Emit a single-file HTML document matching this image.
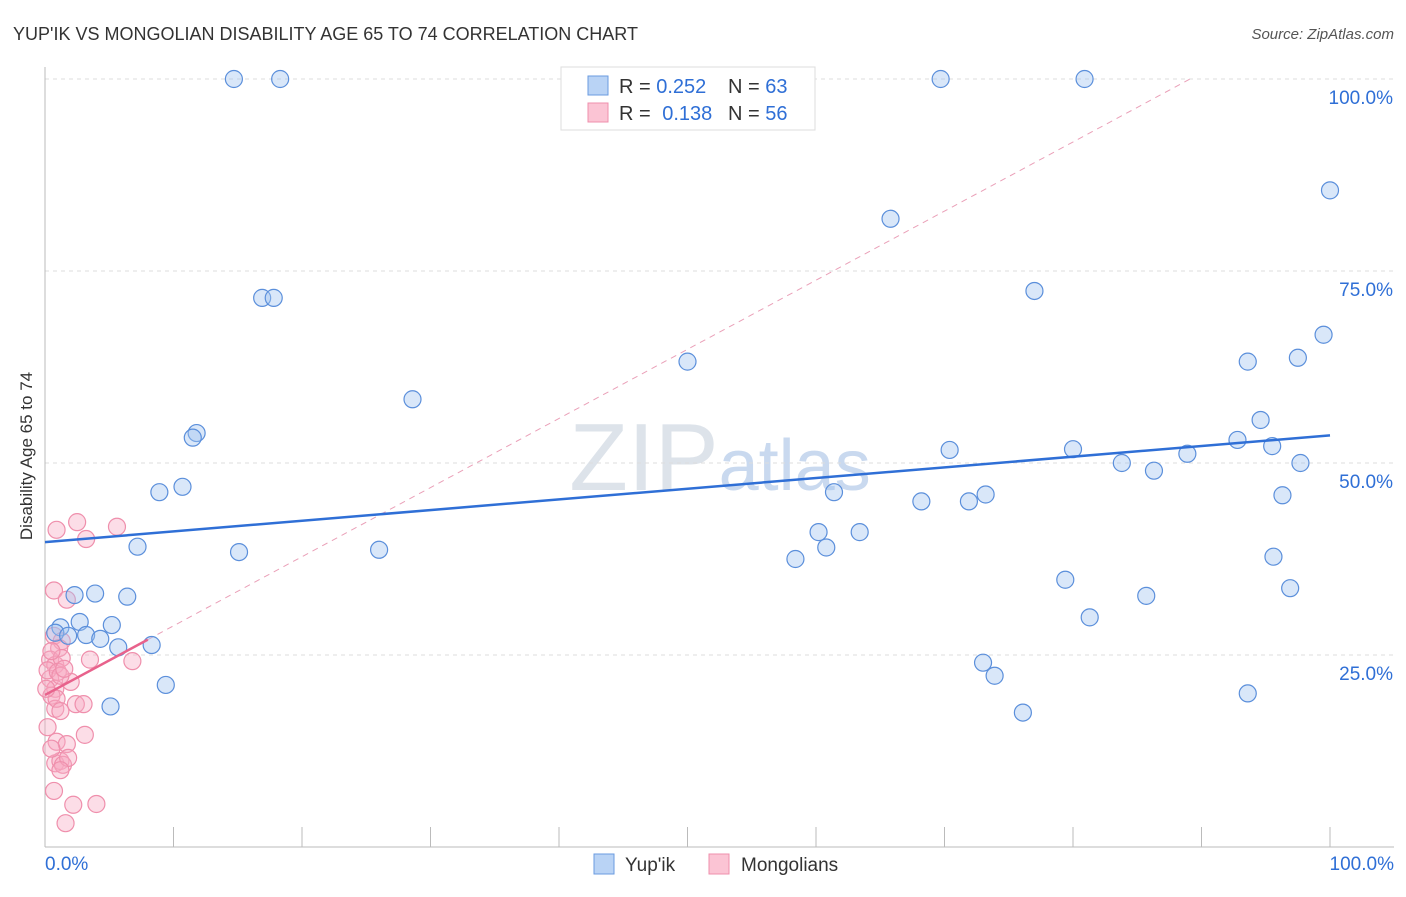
<!DOCTYPE html>
<html><head><meta charset="utf-8"><style>
body{margin:0;background:#fff;font-family:"Liberation Sans",sans-serif;}
svg text{font-family:"Liberation Sans",sans-serif;}
</style></head><body>
<svg id="c" width="1406" height="892" xmlns="http://www.w3.org/2000/svg">
<text x="13" y="40" font-size="18" fill="#333">YUP'IK VS MONGOLIAN DISABILITY AGE 65 TO 74 CORRELATION CHART</text>
<text x="1394" y="39" font-size="15" fill="#555" font-style="italic" text-anchor="end">Source: ZipAtlas.com</text>
<text x="32" y="456" font-size="17" fill="#333" text-anchor="middle" transform="rotate(-90 32 456)">Disability Age 65 to 74</text>
<text x="720" y="490" font-size="96" fill="#dde3ea" text-anchor="middle" font-family="Liberation Serif">ZIP<tspan fill="#c9d9ef" font-family="Liberation Sans" font-size="72">atlas</tspan></text>
<g id="grid"></g><g id="axes"></g><g id="lines"></g><g id="pts"></g>
<g>
<rect x="561" y="67" width="254" height="63" fill="#fff" stroke="#ddd"/>
<rect x="588" y="76" width="20" height="19" fill="#b9d3f5" stroke="#6a9be0"/>
<rect x="588" y="103" width="20" height="19" fill="#fbc4d4" stroke="#ef8fac"/>
<text x="619" y="93" font-size="20" fill="#333">R = <tspan fill="#2f6fd6">0.252</tspan></text>
<text x="728" y="93" font-size="20" fill="#333">N = <tspan fill="#2f6fd6">63</tspan></text>
<text x="619" y="120" font-size="20" fill="#333">R = <tspan fill="#2f6fd6" dx="6">0.138</tspan></text>
<text x="728" y="120" font-size="20" fill="#333">N = <tspan fill="#2f6fd6">56</tspan></text>
</g>
<g>
<rect x="594" y="854" width="20" height="20" fill="#b9d3f5" stroke="#6a9be0"/>
<text x="625" y="871" font-size="19" fill="#333">Yup'ik</text>
<rect x="709" y="854" width="20" height="20" fill="#fbc4d4" stroke="#ef8fac"/>
<text x="741" y="871" font-size="19" fill="#333">Mongolians</text>
</g>
</svg>
<script>
const yTicks=[25,50,75,100];
const yTickLabels=["25.0%","50.0%","75.0%","100.0%"];
const blueX=[14.7,18.3,69.7,80.9,100,65.8,16.9,17.8,77,99.5,50,93.6,97.5,28.6,94.6,11.8,11.5,92.8,95.5,70.4,80,88.9,83.8,86.3,97.7,8.9,10.7,61.4,73.2,96.3,68.2,71.9,15.1,26,60.2,63.4,60.8,58.4,7.2,95.6,79.4,85.7,96.9,81.3,3.9,2.3,6.4,2.7,5.2,1.2,0.8,1.8,3.2,4.3,5.7,8.3,9.4,73,73.9,76.1,93.6,5.1];
const blueY=[100,100,100,100,85.5,81.8,71.5,71.5,72.4,66.7,63.2,63.2,63.7,58.3,55.6,53.9,53.3,53,52.2,51.7,51.8,51.2,50,49,50,46.2,46.9,46.2,45.9,45.8,45,45,38.4,38.7,41,41,39,37.5,39.1,37.8,34.8,32.7,33.7,29.9,33,32.8,32.6,29.3,28.9,28.6,27.9,27.5,27.6,27.1,26,26.3,21.1,24,22.3,17.5,20,18.3];
const pinkX=[0.9,2.5,3.2,5.6,0.7,1.7,0.7,1.3,1.1,0.4,0.8,1.3,3.5,6.8,0.4,2,0.8,0.5,2.4,3,0.8,3.1,0.9,1.7,0.8,1.2,1.4,1.8,1.2,0.7,2.2,4,1.6,0.2,1,1.2,0.5,1.5,0.9,1.2,0.1,0.5,0.2];
const pinkY=[41.3,42.3,40.1,41.7,33.4,32.2,27.5,26.8,25.9,24.4,23.7,24.6,24.4,24.2,21.9,21.5,20.6,19.7,18.6,18.6,18,14.6,13.7,13.4,10.9,11.2,10.7,11.6,10,7.3,5.5,5.6,3.1,23,22.8,22.3,25.5,23.2,19.3,17.7,20.6,12.8,15.6];
const blueTrend=[39.7,53.6];
const pinkTrend=[19.8,27.0,8];
const NS="http://www.w3.org/2000/svg";
const X=v=>45+v*12.85, Y=v=>847-v*7.68;
function mk(t,a,p){const e=document.createElementNS(NS,t);for(const k in a)e.setAttribute(k,a[k]);document.getElementById(p).appendChild(e);return e;}
yTicks.forEach((t,i)=>{
 const g=mk('line',{x1:45,x2:1394,y1:Y(t),y2:Y(t),stroke:'#ddd','stroke-dasharray':'4,4'},'grid');
 
 
 const l=mk('text',{x:1393,y:Y(t)+25,'font-size':19,fill:'#2f6fd6','text-anchor':'end'},'grid');
 l.textContent=yTickLabels[i];
 
 
});
const ax=mk('line',{x1:45,x2:45,y1:67,y2:847,stroke:'#bbb'},'axes');


const bx=mk('line',{x1:45,x2:1394,y1:847,y2:847,stroke:'#bbb'},'axes');


for(let i=1;i<=10;i++){const t=mk('line',{x1:X(i*10),x2:X(i*10),y1:827,y2:847,stroke:'#bbb'},'axes');
 
 }
[[0,"0.0%",'start',45],[100,"100.0%",'end',1394]].forEach(d=>{const t=mk('text',{x:d[3],y:870,'font-size':19,fill:'#2f6fd6','text-anchor':d[2]},'axes');t.textContent=d[1];
 
 });
const ps=(pinkTrend[1]-pinkTrend[0])/pinkTrend[2];
const xe=(100-pinkTrend[0])/ps;
const pd=mk('line',{x1:X(pinkTrend[2]),y1:Y(pinkTrend[1]),x2:X(Math.min(xe,100)),y2:Y(pinkTrend[0]+ps*Math.min(xe,100)),stroke:'#eaa0b8','stroke-dasharray':'6,5'},'lines');


pinkX.forEach((x,i)=>{const c=mk('circle',{cx:X(x),cy:Y(pinkY[i]),r:8.5,fill:'rgba(248,170,195,0.4)',stroke:'#ef8fac','stroke-width':1.2},'pts');
 
 });
blueX.forEach((x,i)=>{const c=mk('circle',{cx:X(x),cy:Y(blueY[i]),r:8.5,fill:'rgba(160,195,240,0.4)',stroke:'#5b8fdb','stroke-width':1.2},'pts');
 
 });
const bt=mk('line',{x1:X(0),y1:Y(blueTrend[0]),x2:X(100),y2:Y(blueTrend[1]),stroke:'#2f6fd6','stroke-width':2.5},'pts');


const pt=mk('line',{x1:X(0),y1:Y(pinkTrend[0]),x2:X(pinkTrend[2]),y2:Y(pinkTrend[1]),stroke:'#e8628c','stroke-width':2.5},'pts');


</script>
</body></html>
